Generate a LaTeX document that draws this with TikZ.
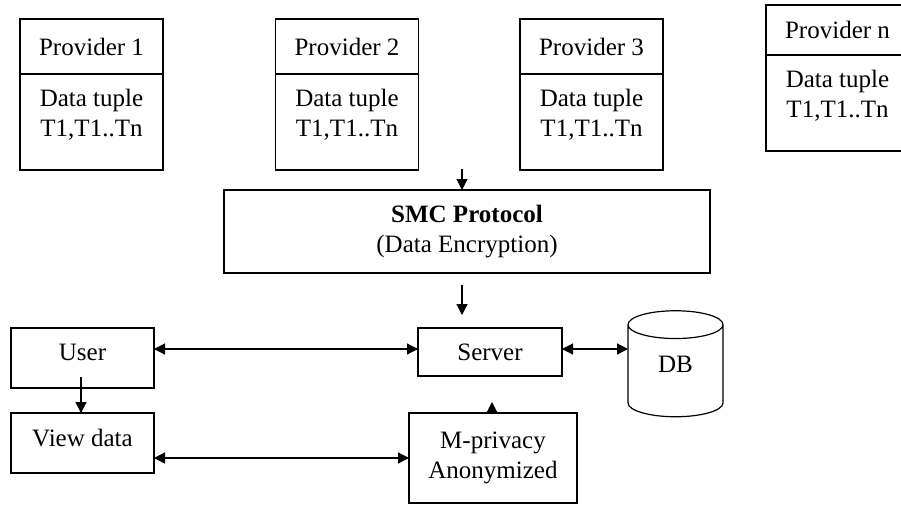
\documentclass[tikz,border=0pt]{standalone}
\usepackage{fontspec}
\setmainfont{Liberation Serif}
\usetikzlibrary{positioning,shapes.geometric,arrows.meta,calc}
\tikzset{
  box/.style={draw, line width=1.2pt, inner sep=0pt, outer sep=0pt, align=center, font=\fontsize{25}{30}\selectfont},
  head/.style={box, minimum width=143pt, minimum height=55pt},
  body/.style={box, minimum width=143pt, minimum height=96pt},
  txt/.style={align=center, inner sep=0pt, font=\fontsize{25}{30}\selectfont},
  arr/.style={line width=1.2pt, -{Triangle[length=11pt,width=11pt]}},
  dbl/.style={line width=1.2pt, {Triangle[length=11pt,width=11pt]}-{Triangle[length=11pt,width=11pt]}},
}

\begin{document}
\begin{tikzpicture}[x=1pt,y=-1pt]
  \clip (0,0) rectangle (901,506);
  % providers
  \node[head] (p1) at (91.5,46.5) {Provider 1};
  \node[body, below=0pt of p1] (p1b) {};
  \node[txt] (p1t) at ($(p1b.north)+(0,41)$) {Data tuple\\T1,T1..Tn};
  \node[head] (p2) at (347,46.5) {Provider 2};
  \node[body, below=0pt of p2] (p2b) {};
  \node[txt] (p2t) at ($(p2b.north)+(0,41)$) {Data tuple\\T1,T1..Tn};
  \node[head] (p3) at (591.5,46.5) {Provider 3};
  \node[body, below=0pt of p3] (p3b) {};
  \node[txt] (p3t) at ($(p3b.north)+(0,41)$) {Data tuple\\T1,T1..Tn};
  \draw[line width=2.2pt] (p3.south west) -- (p3.south east);
  \node[head, minimum height=50pt] (pn) at (837.5,30) {Provider n};
  \node[body, below=0pt of pn] (pnb) {};
  \node[txt] (pnt) at ($(pnb.north)+(0,41)$) {Data tuple\\T1,T1..Tn};

  % protocol and server side
  \node[box, minimum width=486pt, minimum height=83pt] (smc) at (467,231.5) {\textbf{SMC Protocol}\\(Data Encryption)};
  \node[box, minimum width=144pt, minimum height=48pt] (server) at (490,352) {Server};
  \node[box, shape=cylinder, shape border rotate=90, aspect=0.8, minimum width=95pt, minimum height=106pt, text depth=14pt] (db) at (675.5,371) {DB};
  \node[box, minimum width=143pt, minimum height=60pt, text depth=12pt] (user) at (82.5,358) {User};
  \node[box, minimum width=143pt, minimum height=60pt, text depth=10pt] (view) at (82.5,443) {View data};
  \node[box, minimum width=168pt, minimum height=90pt] (mpriv) at (493,458) {M-privacy\\Anonymized};

  % connectors
  \coordinate (smcin) at (462,169);
  \draw[arr] (smcin) -- (smcin |- smc.north);
  \draw[arr] ([shift={(-5,12)}]smc.south) -- ([shift={(-28,-13)}]server.north);
  \coordinate (srvl) at ([yshift=3pt]server.west);
  \coordinate (srvr) at ([yshift=3pt]server.east);
  \draw[dbl] (user.east |- srvl) -- (srvl);
  \draw[dbl] (srvr) -- (db.west |- srvr);
  \draw[arr] ([shift={(-1.5,19)}]user.center) -- ([xshift=-1.5pt]view.north);
  \draw[dbl] (view.east |- mpriv.west) -- (mpriv.west);
  \draw[arr] ([xshift=-1pt]mpriv.north) -- ++(0,-11);
\end{tikzpicture}
\end{document}
